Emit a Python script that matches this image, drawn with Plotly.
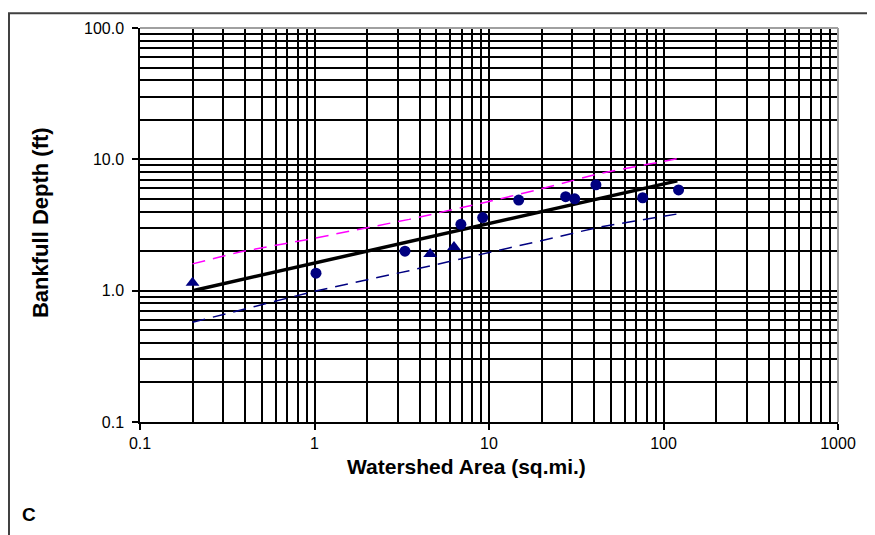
import plotly.graph_objects as go

# === Data ===
circle_area = [1.02, 3.3, 6.9, 9.2, 14.8, 27.5, 31, 41, 76, 122]
circle_depth = [1.36, 2.0, 3.2, 3.6, 4.9, 5.2, 5.0, 6.4, 5.1, 5.85]

triangle_area = [0.2, 4.6, 6.3]
triangle_depth = [1.15, 1.9, 2.15]

fit_area = [0.2, 120]
fit_depth = [1.0, 6.85]

upper_area = [0.2, 0.373, 1.0, 3.49, 10, 19.3, 42.5, 119]
upper_depth = [1.6, 1.97, 2.51, 3.49, 4.78, 5.89, 7.77, 10.1]

lower_area = [0.2, 0.373, 1.0, 3.49, 10, 19.3, 42.5, 119]
lower_depth = [0.574, 0.706, 0.99, 1.42, 1.94, 2.38, 3.04, 3.83]

x_ticks = [0.1, 1, 10, 100, 1000]
x_labels = ["0.1", "1", "10", "100", "1000"]
y_ticks = [0.1, 1, 10, 100]
y_labels = ["0.1", "1.0", "10.0", "100.0"]

NAVY = "#000080"
FONT = "Liberation Sans, Arial, sans-serif"

fig = go.Figure()

fig.add_trace(go.Scatter(x=upper_area, y=upper_depth, mode="lines",
                         line=dict(color="#FF00FF", width=1.5, dash="13px,8px")))
fig.add_trace(go.Scatter(x=lower_area, y=lower_depth, mode="lines",
                         line=dict(color=NAVY, width=1.5, dash="13px,8px")))
fig.add_trace(go.Scatter(x=fit_area, y=fit_depth, mode="lines",
                         line=dict(color="black", width=3.5)))
fig.add_trace(go.Scatter(x=circle_area, y=circle_depth, mode="markers",
                         marker=dict(symbol="circle", size=11, color=NAVY)))
fig.add_trace(go.Scatter(x=triangle_area, y=triangle_depth, mode="markers",
                         marker=dict(symbol="triangle-up", size=12, color=NAVY)))

grid = dict(showgrid=True, gridcolor="black", gridwidth=1.7)

fig.update_xaxes(type="log", range=[-1, 3], tickvals=x_ticks, ticktext=x_labels,
                 ticks="outside", ticklen=6, tickcolor="black", tickwidth=1.5,
                 showline=True, linecolor="black", linewidth=1.5,
                 zeroline=False, tickfont=dict(family=FONT, size=16, color="black"),
                 minor=dict(dtick="D1", ticks="", **grid), **grid)
fig.update_yaxes(type="log", range=[-1, 2], tickvals=y_ticks, ticktext=y_labels,
                 ticks="outside", ticklen=6, tickcolor="black", tickwidth=1.5,
                 ticklabelstandoff=5,
                 showline=True, linecolor="black", linewidth=1.5,
                 zeroline=False, tickfont=dict(family=FONT, size=16, color="black"),
                 minor=dict(dtick="D1", ticks="", **grid), **grid)

# gray plot border on top and right, outer chart frame
fig.add_shape(type="line", xref="paper", yref="paper", x0=0, x1=1, y0=1, y1=1,
              line=dict(color="#a0a0a0", width=2))
fig.add_shape(type="line", xref="paper", yref="paper", x0=1, x1=1, y0=0, y1=1,
              line=dict(color="#a0a0a0", width=2))
fig.add_shape(type="rect", xref="paper", yref="paper", x0=-0.1877, x1=1.2, y0=-0.4, y1=1.0377,
              line=dict(color="#404040", width=2), layer="below")

fig.add_annotation(text="<b>Watershed Area (sq.mi.)</b>", xref="paper", yref="paper",
                   x=0.2937, y=-0.113, xanchor="left", yanchor="middle", showarrow=False,
                   font=dict(family=FONT, size=21, color="black"))
fig.add_annotation(text="<b>Bankfull Depth (ft)</b>", xref="paper", yref="paper",
                   x=-0.1433, y=0.5075, xanchor="center", yanchor="middle", showarrow=False,
                   textangle=-90, font=dict(family=FONT, size=22, color="black"))
fig.add_annotation(text="<b>C</b>", xref="paper", yref="paper",
                   x=-0.172, y=-0.2337, xanchor="left", yanchor="middle", showarrow=False,
                   font=dict(family=FONT, size=19, color="black"))

# the page puts the figure 8px in from the corner, so the margins absorb that
fig.update_layout(width=875, height=535, showlegend=False,
                  margin=dict(l=132, r=45, t=16, b=121),
                  paper_bgcolor="white", plot_bgcolor="white")

fig.write_html("out.html")
